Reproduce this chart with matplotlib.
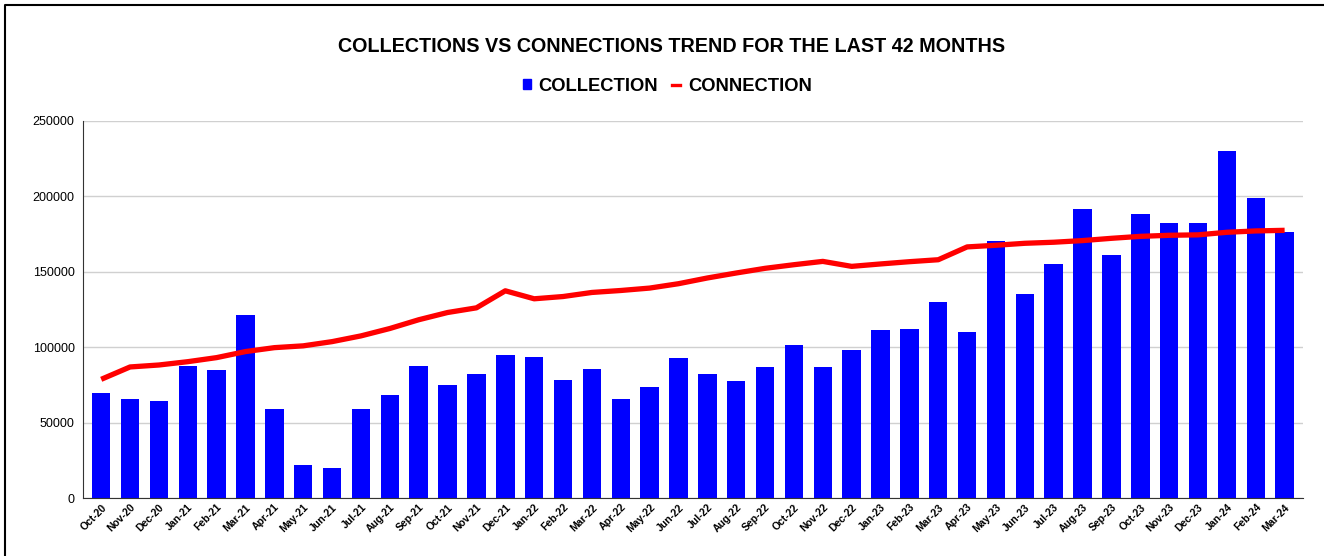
import matplotlib.pyplot as plt
import numpy as np
from matplotlib.lines import Line2D
from matplotlib.patches import Rectangle

plt.rcParams['font.family'] = ['Liberation Sans', 'DejaVu Sans']

months = ['Oct-20', 'Nov-20', 'Dec-20', 'Jan-21', 'Feb-21', 'Mar-21', 'Apr-21', 'May-21',
          'Jun-21', 'Jul-21', 'Aug-21', 'Sep-21', 'Oct-21', 'Nov-21', 'Dec-21', 'Jan-22',
          'Feb-22', 'Mar-22', 'Apr-22', 'May-22', 'Jun-22', 'Jul-22', 'Aug-22', 'Sep-22',
          'Oct-22', 'Nov-22', 'Dec-22', 'Jan-23', 'Feb-23', 'Mar-23', 'Apr-23', 'May-23',
          'Jun-23', 'Jul-23', 'Aug-23', 'Sep-23', 'Oct-23', 'Nov-23', 'Dec-23', 'Jan-24',
          'Feb-24', 'Mar-24']

collection = [69800, 65400, 64500, 87600, 84900, 121500, 58800, 22200,
              20000, 58800, 68500, 87600, 74900, 82000, 94700, 93800,
              78300, 85800, 65400, 73800, 92700, 82200, 77600, 87100,
              101300, 87100, 98000, 111500, 112000, 129700, 110400, 170200,
              135200, 154900, 191800, 160900, 188400, 182400, 182400, 230000,
              199100, 176500]

connection = [78700, 86900, 88200, 90400, 93100, 97100, 99700, 100900,
              103700, 107500, 112400, 118200, 123000, 126100, 137400, 132100,
              133600, 136300, 137600, 139200, 142100, 145900, 149200, 152300,
              154700, 156900, 153600, 155200, 156700, 158000, 166500, 167600,
              168900, 169600, 170700, 172200, 173500, 174200, 174500, 176200,
              177100, 177500]

yticks = [0, 50000, 100000, 150000, 200000, 250000]

fig = plt.figure(figsize=(13.24, 5.56), dpi=100)
ax = fig.add_axes([0.0627, 0.1043, 0.9213, 0.6781])

x = np.arange(len(months))
ax.bar(x, collection, width=0.64, color='#0000ff', zorder=2)
ax.plot(x, connection, color='#ff0000', linewidth=3.8, solid_capstyle='butt', zorder=3)

ax.set_xlim(-0.63, len(months) - 1 + 0.63)
ax.set_ylim(0, 250000)
ax.set_yticks(yticks)
ax.set_yticklabels([str(v) for v in yticks], fontsize=9)
ax.set_xticks(x)
ax.set_xticklabels(months, rotation=45, ha='right', rotation_mode='anchor',
                   fontsize=7.5, fontweight='bold')
ax.tick_params(axis='y', length=0, pad=6)
ax.tick_params(axis='x', length=0, pad=3)

ax.grid(axis='y', color='#d0d0d0', linewidth=1, zorder=0)
ax.set_axisbelow(True)
for side in ['top', 'right']:
    ax.spines[side].set_visible(False)
ax.spines['left'].set_color('#333333')
ax.spines['bottom'].set_color('#333333')

fig.text(0.507, 0.917, 'COLLECTIONS VS CONNECTIONS TREND FOR THE LAST 42 MONTHS',
         ha='center', va='center', fontsize=14.2, fontweight='bold')

handles = [Rectangle((0, 0), 1, 1, color='#0000ff'),
           Line2D([0], [0], color='#ff0000', linewidth=2.4)]
fig.legend(handles, ['COLLECTION', 'CONNECTION'], loc='center', bbox_to_anchor=(0.504, 0.845),
           ncol=2, frameon=False, prop={'size': 13.2, 'weight': 'bold'},
           handlelength=0.44, handleheight=0.44, handletextpad=0.42, columnspacing=0.76)

# top and left border of the screenshot
fig.add_artist(Line2D([0.004, 0.004, 1.0], [0, 0.9905, 0.9905],
                      transform=fig.transFigure, color='black', linewidth=1.5))

fig.savefig('out.png', dpi=100)
